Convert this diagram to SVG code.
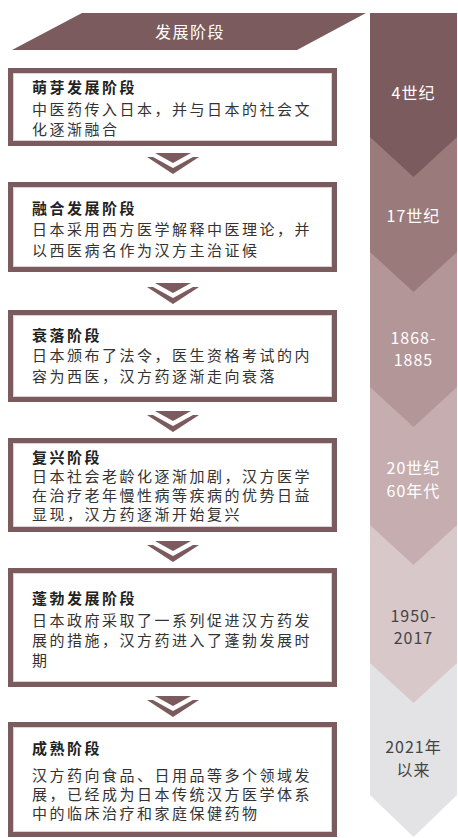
<svg xmlns="http://www.w3.org/2000/svg" width="458" height="838" viewBox="0 0 458 838">
<style>
.box{fill:#fff;stroke:#7b5b5d;stroke-width:5}
.inner{fill:none;stroke:#ddd3d4;stroke-width:1}
.t{font-family:"Noto Sans CJK SC","Noto Sans",sans-serif;font-size:15px;letter-spacing:2.5px;fill:#333}
.h{font-weight:bold;fill:#222}
.c{font-family:"Noto Sans CJK SC","Noto Sans",sans-serif;font-size:16px;letter-spacing:1px;text-anchor:middle}
.w{fill:#fff}
.d{fill:#444}
.arr{fill:#7b5b5d}
</style>
<rect width="458" height="838" fill="#fff"/>
<g id="header">
<polygon points="82,13 366,13 297,50 12,50" fill="#7b5b5d"/>
<text x="190" y="38" class="c w" style="letter-spacing:1.5px">发展阶段</text>
</g>
<g id="timeline">
<polygon points="370,13 457,13 457,795 413.5,837 370,795" fill="#e3e3e5"/>
<polygon points="370,13 457,13 457,663 413.5,703 370,663" fill="#d8c8ca"/>
<polygon points="370,13 457,13 457,525 413.5,565 370,525" fill="#c6aeb0"/>
<polygon points="370,13 457,13 457,387 413.5,427 370,387" fill="#b29698"/>
<polygon points="370,13 457,13 457,252 413.5,292 370,252" fill="#9b7a7c"/>
<polygon points="370,13 457,13 457,137 413.5,177 370,137" fill="#7b5b5d"/>
<text x="413.5" y="99" class="c w">4世纪</text>
<text x="413.5" y="222" class="c w">17世纪</text>
<text x="413.5" y="344" class="c w">1868-</text>
<text x="413.5" y="366" class="c w">1885</text>
<text x="413.5" y="474" class="c w">20世纪</text>
<text x="413.5" y="497" class="c w">60年代</text>
<text x="413.5" y="622" class="c d">1950-</text>
<text x="413.5" y="644" class="c d">2017</text>
<text x="413.5" y="753" class="c d">2021年</text>
<text x="413.5" y="776" class="c d">以来</text>
</g>
<g id="stage1">
<rect x="10.5" y="70.5" width="324" height="73" class="box"/>
<rect x="13.5" y="73.5" width="318" height="67" class="inner"/>
<text x="32" y="93" class="t h">萌芽发展阶段</text>
<text x="32" y="115" class="t">中医药传入日本，并与日本的社会文</text>
<text x="32" y="135" class="t">化逐渐融合</text>
</g>
<g id="stage2">
<rect x="10.5" y="184.5" width="324" height="85" class="box"/>
<rect x="13.5" y="187.5" width="318" height="79" class="inner"/>
<text x="32" y="214" class="t h">融合发展阶段</text>
<text x="32" y="235" class="t">日本采用西方医学解释中医理论，并</text>
<text x="32" y="256" class="t">以西医病名作为汉方主治证候</text>
</g>
<g id="stage3">
<rect x="10.5" y="312.5" width="324" height="87" class="box"/>
<rect x="13.5" y="315.5" width="318" height="81" class="inner"/>
<text x="32" y="341" class="t h">衰落阶段</text>
<text x="32" y="361" class="t">日本颁布了法令，医生资格考试的内</text>
<text x="32" y="382" class="t">容为西医，汉方药逐渐走向衰落</text>
</g>
<g id="stage4">
<rect x="10.5" y="440.5" width="324" height="89" class="box"/>
<rect x="13.5" y="443.5" width="318" height="83" class="inner"/>
<text x="32" y="463" class="t h">复兴阶段</text>
<text x="32" y="482" class="t">日本社会老龄化逐渐加剧，汉方医学</text>
<text x="32" y="501" class="t">在治疗老年慢性病等疾病的优势日益</text>
<text x="32" y="520" class="t">显现，汉方药逐渐开始复兴</text>
</g>
<g id="stage5">
<rect x="10.5" y="570.5" width="324" height="114" class="box"/>
<rect x="13.5" y="573.5" width="318" height="108" class="inner"/>
<text x="32" y="604" class="t h">蓬勃发展阶段</text>
<text x="32" y="626" class="t">日本政府采取了一系列促进汉方药发</text>
<text x="32" y="646" class="t">展的措施，汉方药进入了蓬勃发展时</text>
<text x="32" y="666" class="t">期</text>
</g>
<g id="stage6">
<rect x="10.5" y="724.5" width="324" height="110" class="box"/>
<rect x="13.5" y="727.5" width="318" height="104" class="inner"/>
<text x="32" y="754" class="t h">成熟阶段</text>
<text x="32" y="781" class="t">汉方药向食品、日用品等多个领域发</text>
<text x="32" y="800" class="t">展，已经成为日本传统汉方医学体系</text>
<text x="32" y="819" class="t">中的临床治疗和家庭保健药物</text>
</g>
<defs>
<g id="chev">
<polygon points="155,0 191,0 173,10" class="arr"/>
<polygon points="147,4 153,4 173,15 193,4 199,4 173,21" class="arr"/>
</g>
</defs>
<g id="connectors">
<use href="#chev" y="153"/>
<use href="#chev" y="283"/>
<use href="#chev" y="411"/>
<use href="#chev" y="541"/>
<use href="#chev" y="696"/>
</g>
</svg>
